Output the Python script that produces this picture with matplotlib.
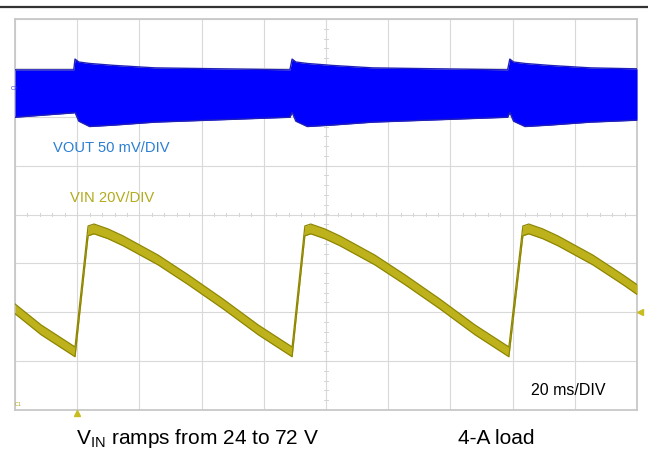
import numpy as np
import matplotlib.pyplot as plt
from matplotlib.lines import Line2D

plt.rcParams['font.family'] = ['Liberation Sans', 'DejaVu Sans']

# time axis: 20 ms/div, 10 divisions
ms_per_div = 20
# VOUT (50 mV/div, AC) envelope of the ripple band, in mV around the channel offset
vout_t = [0, 18.9, 19.3, 20.5, 24, 32, 45, 88.4, 89.1, 90.3, 94, 102, 115,
          158.4, 159.1, 160.3, 164, 172, 185, 200]
vout_top = [19.5, 19.5, 30.5, 27.5, 26.0, 24.0, 21.5, 19.5, 30.5, 27.5, 26.0, 24.0, 21.5,
            19.5, 30.5, 27.5, 26.0, 24.0, 21.5, 20.5]
vout_bot = [-29, -24.5, -24, -33, -38.5, -37, -34, -29, -24, -33, -38.5, -37, -34,
            -29, -24, -33, -38.5, -37, -34, -32]
vout_offset_div = 2.57
vout_mv_per_div = 50

# VIN (20 V/div) ramp, in volts
vin_t = [0, 8.4, 19.3,
         23.5, 25.4, 29.9, 34.8, 46.0, 55.7, 66.9, 78.2, 89.1,
         93.2, 95.1, 99.6, 104.5, 115.7, 125.4, 136.6, 147.9, 158.8,
         163.3, 165.2, 169.7, 174.6, 185.8, 195.5, 200]
vin_v = [41.4, 32.8, 23.8,
         73.3, 74.1, 72.1, 69.2, 61.4, 53.3, 43.4, 32.8, 23.8,
         73.3, 74.1, 72.1, 69.2, 61.4, 53.3, 43.4, 32.8, 23.8,
         73.3, 74.1, 72.1, 69.2, 61.4, 53.3, 49.3]
vin_offset_div = -4
vin_v_per_div = 20
vin_band = 2.0
trig_t = 20
trig_v = 40

fig = plt.figure(figsize=(6.48, 4.49), dpi=100)
ax = fig.add_axes([15 / 648, 39 / 449, 622 / 648, 391 / 449])
ax.set_xlim(0, 10 * ms_per_div)
ax.set_ylim(-4, 4)
ax.set_xticks(np.arange(0, 201, ms_per_div))
ax.set_yticks(np.arange(-4, 5, 1))
ax.tick_params(length=0, labelbottom=False, labelleft=False)
ax.grid(True, color='#d9d9d9', lw=0.8)
ax.set_axisbelow(True)
for s in ax.spines.values():
    s.set_color('#c8c8c8')
    s.set_linewidth(1.3)

# minor ticks on the center lines
for xm in np.arange(0, 200.1, 4):
    ax.plot([xm, xm], [-0.035, 0.035], color='#d4d4d4', lw=0.7, zorder=1)
for ym in np.arange(-4, 4.01, 0.2):
    ax.plot([99.5, 100.5], [ym, ym], color='#d4d4d4', lw=0.7, zorder=1)

# VOUT band
t1 = np.array(vout_t)
top = vout_offset_div + np.array(vout_top) / vout_mv_per_div
bot = vout_offset_div + np.array(vout_bot) / vout_mv_per_div
ax.fill_between(t1, bot, top, color='#0000ff', lw=0, zorder=3)
ax.plot(t1, top, color='#2020b8', lw=1.0, zorder=3)
ax.plot(t1, bot, color='#2020b8', lw=1.0, zorder=3)

# VIN trace
t2 = np.array(vin_t)
v = np.array(vin_v)
up = vin_offset_div + (v + vin_band) / vin_v_per_div
lo = vin_offset_div + (v - vin_band) / vin_v_per_div
ax.fill_between(t2, lo, up, color='#bdb21c', lw=0, zorder=4)
ax.plot(t2, up, color='#8e8600', lw=0.9, zorder=4)
ax.plot(t2, lo, color='#8e8600', lw=0.9, zorder=4)

# channel / trigger markers
ax.text(-0.2, vout_offset_div, 'C3', color='#3030e0', fontsize=4, ha='center', va='center',
        zorder=5, clip_on=False)
ax.text(0, -3.93, 'C1', color='#b0a818', fontsize=4, ha='left', va='bottom', zorder=5)
ax.plot([trig_t], [-4.07], marker='^', color='#c8bc20', ms=4, clip_on=False, zorder=5)
ax.plot([200.9], [vin_offset_div + trig_v / vin_v_per_div], marker='<', color='#c8bc20', ms=4,
        clip_on=False, zorder=5)

# labels
ax.text(12.3, 1.36, 'VOUT 50 mV/DIV', color='#2a7fd4', fontsize=10.6, ha='left',
        va='center', zorder=6)
ax.text(17.6, 0.33, 'VIN 20V/DIV', color='#b3ab1c', fontsize=10.6, ha='left', va='center', zorder=6)
ax.text(166, -3.6, '20 ms/DIV', color='black', fontsize=11.5, ha='left', va='center', zorder=6)

fig.text(76 / 648, 1 - 438 / 449, 'V$_{\\mathregular{IN}}$ ramps from 24 to 72 V', fontsize=15,
         ha='left', va='center')
fig.text(458 / 648, 1 - 438 / 449, '4-A load', fontsize=15, ha='left', va='center')

fig.add_artist(Line2D([0, 1], [1 - 6.5 / 449] * 2, color='#333333', lw=1.6))

fig.savefig('out.png', dpi=100)
